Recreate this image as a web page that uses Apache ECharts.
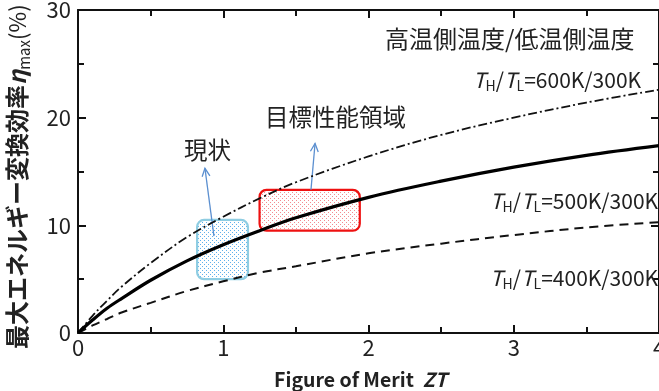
<!DOCTYPE html>
<html>
<head>
<meta charset="utf-8">
<script src="https://cdn.jsdelivr.net/npm/echarts@6/dist/echarts.min.js"></script>
<style>html,body{margin:0;padding:0;background:#fff}#c{width:659px;height:391px}</style>
</head>
<body>
<div id="c"></div>
<script>
// ---- data ----
const zt = [0, 0.1, 0.2, 0.3, 0.5, 0.75, 1, 1.25, 1.5, 2, 2.5, 3, 3.5, 4];
const eff600 = [0, 1.6, 3.0, 4.3, 6.5, 8.9, 10.8, 12.5, 14.0, 16.4, 18.4, 20.0, 21.4, 22.6];
const eff500 = [0, 1.2, 2.3, 3.2, 4.9, 6.7, 8.2, 9.5, 10.7, 12.6, 14.1, 15.4, 16.5, 17.4];
const eff400 = [0, 0.7, 1.3, 1.9, 2.8, 3.9, 4.8, 5.6, 6.2, 7.4, 8.3, 9.1, 9.8, 10.3];
const xTicks = [0, 1, 2, 3, 4];
const yTicks = [0, 10, 20, 30];
// boxes: [x0, x1, y0, y1]
const currentBox = [0.82, 1.17, 5.0, 10.5];
const targetBox = [1.25, 1.94, 9.5, 13.3];
// arrows: [xFrom, yFrom, xTo, yTo]
const arrows = [[0.936, 9.0, 0.874, 15.3], [1.604, 13.3, 1.632, 17.6]];

function dotPattern(color) {
  const c = document.createElement('canvas');
  c.width = 4; c.height = 4;
  const g = c.getContext('2d');
  g.fillStyle = '#ffffff'; g.fillRect(0, 0, 4, 4);
  g.fillStyle = color;
  g.fillRect(0, 0, 1, 1);
  g.fillRect(2, 2, 1, 1);
  return { image: c, repeat: 'repeat' };
}
const bluePat = dotPattern('rgba(40,150,230,0.75)');
const redPat = dotPattern('rgba(235,60,70,0.6)');

const pairs = a => zt.map((x, i) => [x, a[i]]);
const FONT = '"Noto Sans CJK JP", "Noto Sans", sans-serif';
const TXT = '#222';

const chart = echarts.init(document.getElementById('c'), null, { renderer: 'canvas' });

const axisCommon = {
  axisLine: { show: true, onZero: false, lineStyle: { color: '#111', width: 2 } },
  axisTick: { show: true, inside: true, length: 8, lineStyle: { color: '#111', width: 2 } },
  minorTick: { show: true, splitNumber: 2, length: 6, lineStyle: { color: '#111', width: 2 } },
  splitLine: { show: false }
};

function thLabel(x, y, txt) {
  return { type: 'text', x: x, y: y, z: 10, style: {
    text: '{t|T}{s|H}{n|/}{t|T}{s|L}{n|=' + txt + '}', verticalAlign: 'middle', fontFamily: FONT,
    rich: { t: { fontSize: 21, fontStyle: 'italic', fill: TXT, fontFamily: FONT },
            s: { fontSize: 14, fill: TXT, fontFamily: FONT, verticalAlign: 'bottom', padding: [11, 0, 0, 0] },
            n: { fontSize: 21, fill: TXT, fontFamily: FONT } } } };
}

chart.setOption({
  animation: false,
  backgroundColor: '#fff',
  grid: { left: 78, right: 0, top: 10, bottom: 58, containLabel: false, outerBoundsMode: 'none' },
  xAxis: [
    Object.assign({}, axisCommon, {
      type: 'value', min: 0, max: 4, interval: 1, position: 'bottom',
      axisLabel: { show: true, fontSize: 22, color: TXT, fontFamily: FONT, margin: 4,
        formatter: v => xTicks.includes(v) ? String(v) : '' },
      name: '{b|Figure of Merit  }{i|ZT}',
      nameLocation: 'middle', nameGap: 37,
      nameTextStyle: { fontFamily: FONT, padding: [0, 16, 0, 0], rich: {
        b: { fontSize: 19.5, fontWeight: 'bold', color: TXT, fontFamily: FONT },
        i: { fontSize: 19.5, fontWeight: 'bold', fontStyle: 'italic', color: TXT, fontFamily: FONT } } }
    }),
    Object.assign({}, axisCommon, {
      type: 'value', min: 0, max: 4, interval: 1, position: 'top',
      axisLabel: { show: false }
    })
  ],
  yAxis: [
    Object.assign({}, axisCommon, {
      type: 'value', min: 0, max: 30, interval: 10, position: 'left',
      axisLabel: { show: true, fontSize: 22, color: TXT, fontFamily: FONT, margin: 7,
        formatter: v => yTicks.includes(v) ? String(v) : '' },
      name: '{b|最大エネルギー変換効率}{e|η}{s|max}{p|(%)}',
      nameLocation: 'middle', nameGap: 46, nameRotate: 90,
      nameTextStyle: { fontFamily: FONT, padding: [0, 10, 0, 0], rich: {
        b: { fontSize: 24, fontWeight: 'bold', color: TXT, fontFamily: FONT, lineHeight: 30 },
        e: { fontSize: 24, fontStyle: 'italic', fontWeight: 'bold', color: TXT, fontFamily: FONT, lineHeight: 30 },
        s: { fontSize: 15, color: TXT, fontFamily: FONT, verticalAlign: 'bottom', lineHeight: 30, padding: [11, 0, 0, 0] },
        p: { fontSize: 22.5, color: TXT, fontFamily: FONT, lineHeight: 30 } } }
    }),
    Object.assign({}, axisCommon, {
      type: 'value', min: 0, max: 30, interval: 10, position: 'right',
      axisLabel: { show: false }
    })
  ],
  series: [
    {
      type: 'custom', z: 1, xAxisIndex: 0, yAxisIndex: 0,
      data: [currentBox.concat([0]), targetBox.concat([1])],
      renderItem: function (params, api) {
        const p0 = api.coord([api.value(0), api.value(3)]);
        const p1 = api.coord([api.value(1), api.value(2)]);
        const isTarget = api.value(4) === 1;
        return {
          type: 'rect',
          shape: { x: p0[0], y: p0[1], width: p1[0] - p0[0], height: p1[1] - p0[1], r: 7 },
          style: { fill: isTarget ? redPat : bluePat, stroke: isTarget ? '#ee1111' : '#8fcde2', lineWidth: 2.2 }
        };
      }
    },
    {
      type: 'custom', z: 2, xAxisIndex: 0, yAxisIndex: 0,
      data: arrows,
      renderItem: function (params, api) {
        const a = api.coord([api.value(0), api.value(1)]);
        const b = api.coord([api.value(2), api.value(3)]);
        const ang = Math.atan2(b[1] - a[1], b[0] - a[0]);
        const L = 9, s = 0.45;
        const h1 = [b[0] - L * Math.cos(ang - s), b[1] - L * Math.sin(ang - s)];
        const h2 = [b[0] - L * Math.cos(ang + s), b[1] - L * Math.sin(ang + s)];
        const st = { stroke: '#5b8fd0', lineWidth: 1.3, fill: null };
        return { type: 'group', children: [
          { type: 'line', shape: { x1: a[0], y1: a[1], x2: b[0], y2: b[1] }, style: st },
          { type: 'polyline', shape: { points: [h1, b, h2] }, style: st }
        ] };
      }
    },
    {
      name: '600K/300K', type: 'line', z: 3, data: pairs(eff600), smooth: 0.35, symbol: 'none',
      lineStyle: { color: '#111', width: 1.8, type: [9, 3, 2, 3] }
    },
    {
      name: '500K/300K', type: 'line', z: 4, data: pairs(eff500), smooth: 0.35, symbol: 'none',
      lineStyle: { color: '#000', width: 3.2, type: 'solid' }
    },
    {
      name: '400K/300K', type: 'line', z: 3, data: pairs(eff400), smooth: 0.35, symbol: 'none',
      lineStyle: { color: '#111', width: 2, type: [9, 6] }
    }
  ],
  graphic: [
    { type: 'text', x: 385, y: 39, z: 10, style: { text: '高温側温度/低温側温度', fontSize: 24, fontFamily: FONT, fill: TXT, verticalAlign: 'middle' } },
    thLabel(473, 80, '600K/300K'),
    thLabel(490, 201, '500K/300K'),
    thLabel(490, 278, '400K/300K'),
    { type: 'text', x: 265, y: 117, z: 10, style: { text: '目標性能領域', fontSize: 23.5, fontFamily: FONT, fill: TXT, verticalAlign: 'middle' } },
    { type: 'text', x: 184, y: 150, z: 10, style: { text: '現状', fontSize: 23.5, fontFamily: FONT, fill: TXT, verticalAlign: 'middle' } }
  ]
});
</script>
</body>
</html>
